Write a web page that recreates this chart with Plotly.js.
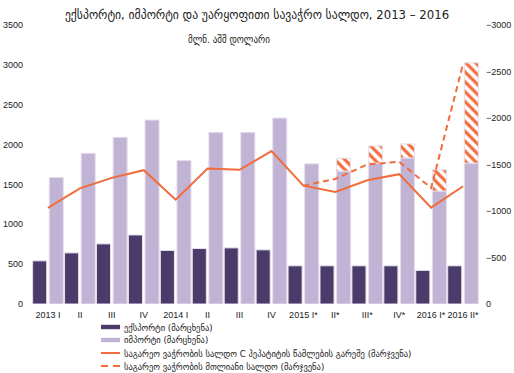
<!DOCTYPE html>
<html>
<head>
<meta charset="utf-8">
<script src="https://cdn.plot.ly/plotly-3.0.1.min.js"></script>
<style>html,body{margin:0;padding:0;background:#fff;}#chart{width:514px;height:373px;}</style>
</head>
<body>
<div id="chart"></div>
<script>
// ---- data ----
const categories = ['2013 I','II','III','IV','2014 I','II','III','IV','2015 I*','II*','III*','IV*','2016 I*','2016 II*'];
const exportsVals = [541, 641, 754, 866, 671, 696, 704, 679, 479, 479, 479, 479, 421, 479];
const importsVals = [1587, 1891, 2091, 2308, 1800, 2154, 2154, 2333, 1758, 1667, 1767, 1833, 1417, 1767];
const hepCImports = [null, null, null, null, null, null, null, null, null, 162, 216, 175, 266, 1258];
const balanceExHepC = [-1033, -1244, -1356, -1439, -1122, -1457, -1443, -1644, -1273, -1205, -1331, -1396, -1036, -1266];
const balanceTotal = [null, null, null, null, null, null, null, null, -1273, -1345, -1500, -1529, -1248, -2579];

const titleText = 'ექსპორტი, იმპორტი და უარყოფითი სავაჭრო სალდო, 2013 – 2016';
const subtitleText = 'მლნ. აშშ დოლარი';
const legendNames = ['ექსპორტი (მარცხენა)', 'იმპორტი (მარცხენა)',
  'საგარეო ვაჭრობის სალდო C ჰეპატიტის წამლების გარეშე (მარჯვენა)',
  'საგარეო ვაჭრობის მთლიანი სალდო (მარჯვენა)'];

// ---- styles ----
const DARK = '#4b3b6a', LIGHT = '#c0b3d4', ORANGE = '#f26b3a', EDGE = '#e4dfec';
const GEO = 'DejaVu Sans Condensed, DejaVu Sans, sans-serif';
const TICKF = 'Liberation Sans, Arial, sans-serif';
const W = 514, H = 373, ML = 32, MR = 35, MT = 25, MB = 69;
const PW = W - ML - MR, PH = H - MT - MB;
const px2x = p => (p - ML) / PW;
const px2y = p => (H - MB - p) / PH;

const xs = categories.map((_, i) => i);

const traces = [
  {type: 'bar', x: xs, y: exportsVals, name: legendNames[0], offset: -0.48, width: 0.44,
   marker: {color: DARK, line: {color: EDGE, width: 1}}, showlegend: false, hoverinfo: 'y'},
  {type: 'bar', x: xs, y: importsVals, name: legendNames[1], offset: 0.04, width: 0.44,
   marker: {color: LIGHT, line: {color: EDGE, width: 1}}, showlegend: false, hoverinfo: 'y'},
  {type: 'bar', x: xs, y: hepCImports, base: importsVals, offset: 0.04, width: 0.44,
   marker: {color: 'white', line: {color: EDGE, width: 1},
     pattern: {shape: '\\', fgcolor: ORANGE, bgcolor: 'white', size: 7, solidity: 0.45, fillmode: 'replace'}},
   showlegend: false, hoverinfo: 'y'},
  {type: 'scatter', mode: 'lines', x: xs, y: balanceExHepC, yaxis: 'y2', name: legendNames[2],
   line: {color: ORANGE, width: 2}, showlegend: false},
  {type: 'scatter', mode: 'lines', x: xs, y: balanceTotal, yaxis: 'y2', name: legendNames[3],
   line: {color: ORANGE, width: 2, dash: '6px,4px'}, showlegend: false}
];

// manual legend (compact rows like the reference)
const rows = [327, 340, 353, 366];
const shapes = [];
const annotations = [];
const sx0 = px2x(101), sx1 = px2x(120);
shapes.push({type: 'rect', xref: 'paper', yref: 'paper', x0: sx0, x1: sx1, y0: px2y(rows[0] + 2.2), y1: px2y(rows[0] - 2.2), fillcolor: DARK, line: {width: 0}});
shapes.push({type: 'rect', xref: 'paper', yref: 'paper', x0: sx0, x1: sx1, y0: px2y(rows[1] + 2.2), y1: px2y(rows[1] - 2.2), fillcolor: LIGHT, line: {width: 0}});
shapes.push({type: 'line', xref: 'paper', yref: 'paper', x0: sx0, x1: sx1, y0: px2y(rows[2]), y1: px2y(rows[2]), line: {color: ORANGE, width: 2}});
shapes.push({type: 'line', xref: 'paper', yref: 'paper', x0: sx0, x1: px2x(108), y0: px2y(rows[3]), y1: px2y(rows[3]), line: {color: ORANGE, width: 2}});
shapes.push({type: 'line', xref: 'paper', yref: 'paper', x0: px2x(113), x1: sx1, y0: px2y(rows[3]), y1: px2y(rows[3]), line: {color: ORANGE, width: 2}});
legendNames.forEach((t, i) => annotations.push({
  text: t, xref: 'paper', yref: 'paper', x: px2x(122), y: px2y(rows[i]), xanchor: 'left', yanchor: 'middle',
  showarrow: false, font: {family: GEO, size: 9.5, color: '#222'}
}));
annotations.push({text: subtitleText, xref: 'paper', yref: 'paper', x: px2x(229), y: px2y(40),
  xanchor: 'center', yanchor: 'middle', showarrow: false, font: {family: GEO, size: 10, color: '#222'}});

const layout = {
  width: W, height: H,
  margin: {l: ML, r: MR, t: MT, b: MB, pad: 0},
  paper_bgcolor: 'white', plot_bgcolor: 'white',
  title: {text: titleText, x: 0.5, xref: 'container', xanchor: 'center', y: 1 - 14 / H, yref: 'container', yanchor: 'middle',
    font: {family: GEO, size: 13, color: '#222'}},
  barmode: 'overlay',
  showlegend: false,
  xaxis: {range: [-0.5, categories.length - 0.5], tickmode: 'array', tickvals: xs, ticktext: categories,
    tickangle: 0, showgrid: false, zeroline: false, showline: false, ticks: '', fixedrange: true,
    ticklabelstandoff: 4,
    tickfont: {family: TICKF, size: 9, color: '#222'}},
  yaxis: {range: [0, 3500], dtick: 500, showgrid: false, zeroline: false, showline: false, ticks: '',
    ticklabelstandoff: 8,
    tickfont: {family: TICKF, size: 9, color: '#222'}},
  yaxis2: {overlaying: 'y', side: 'right', range: [0, -3000], dtick: 500, showgrid: false, zeroline: false,
    showline: false, ticks: '', ticklabelstandoff: 6,
    tickfont: {family: TICKF, size: 9, color: '#222'}},
  shapes: shapes,
  annotations: annotations
};

Plotly.newPlot('chart', traces, layout, {staticPlot: true, displayModeBar: false});
</script>
</body>
</html>
